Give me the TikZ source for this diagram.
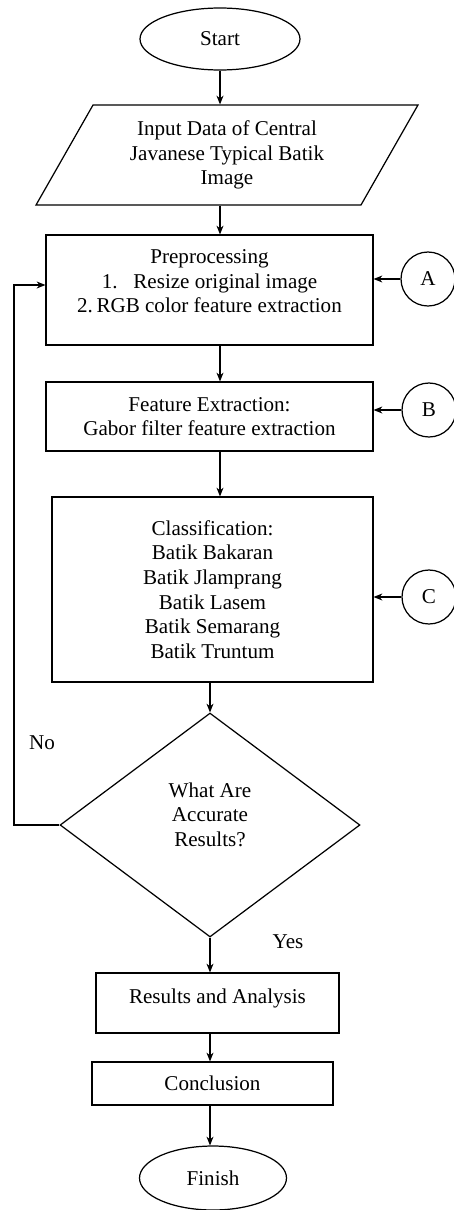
\documentclass[tikz,border=0pt]{standalone}
\usepackage{fontspec}
\setmainfont{Liberation Serif}
\usetikzlibrary{arrows.meta, positioning, shapes.geometric, calc}

\begin{document}
\begin{tikzpicture}[x=0.02cm, y=-0.02cm, font=\fontsize{12}{14}\selectfont, line width=0.7pt,
    box/.style={draw, align=center, inner sep=2pt},
    term/.style={draw, ellipse, inner sep=1pt},
    conn/.style={draw, circle, minimum size=1.08cm, inner sep=0pt},
    >={Stealth[length=5pt,width=4pt]}]
  \useasboundingbox (0,0) rectangle (453,1210);

  \node[term, minimum width=3.2cm, minimum height=1.24cm] (start) at (220,39) {Start};
  \node[draw, trapezium, trapezium left angle=53, trapezium right angle=127, trapezium stretches body,
        minimum width=7.64cm, minimum height=2cm, align=center, inner sep=2pt] (input) at (227,155)
        {Input Data of Central\\Javanese Typical Batik\\Image};
  \node[box, minimum width=6.54cm, minimum height=2.2cm] (pre) at (209.5,290)
        {Preprocessing\\1.\ \ \ Resize original image\\2.\,RGB color feature extraction\\[-4pt]\mbox{}};
  \node[box, minimum width=6.54cm, minimum height=1.38cm] (feat) at (209.5,416.5)
        {Feature Extraction:\\Gabor filter feature extraction};
  \node[box, minimum width=6.42cm, minimum height=3.7cm] (cls) at (212.5,589.5)
        {Classification:\\Batik Bakaran\\Batik Jlamprang\\Batik Lasem\\Batik Semarang\\Batik Truntum};
  \node[draw, diamond, minimum width=6cm, minimum height=4.48cm, align=center, inner sep=0pt] (dec) at (210,825)
        {What Are\\Accurate\\Results?\\[-2pt]\mbox{}};
  \node[box, minimum width=4.86cm, minimum height=1.2cm] (res) at (217.5,1003) {Results and Analysis\\[-6pt]\mbox{}};
  \node[box, minimum width=4.82cm, minimum height=0.86cm] (conc) at (212.5,1083.5) {Conclusion};
  \node[term, minimum width=2.94cm, minimum height=1.28cm] (fin) at (213,1178) {Finish};

  % connectors
  \node[conn] (cA) at (428,279) {A};
  \node[conn] (cB) at (429,410) {B};
  \node[conn] (cC) at (429,597) {C};

  \node (no) at (42,743) {No};
  \node (yes) at (288,942) {Yes};

  \draw[->] (start) -- (start |- input.north);
  \draw[->] (start |- input.south) -- (start |- pre.north);
  \draw[->] (start |- pre.south) -- (start |- feat.north);
  \draw[->] (start |- feat.south) -- (start |- cls.north);
  \draw[->] (dec |- cls.south) -- (dec.north);
  \draw[->] (dec.south) -- (dec |- res.north);
  \draw[->] (dec |- res.south) -- (dec |- conc.north);
  \draw[->] (dec |- conc.south) -- (dec |- fin.north);

  \draw[->] (cA) -- (pre.east |- cA);
  \draw[->] (cB) -- (feat.east |- cB);
  \draw[->] (cC) -- (cls.east |- cC);

  \coordinate (back) at (14,285);
  \draw[->] (dec.west) -| (back) -- (pre.west |- back);
\end{tikzpicture}
\end{document}
